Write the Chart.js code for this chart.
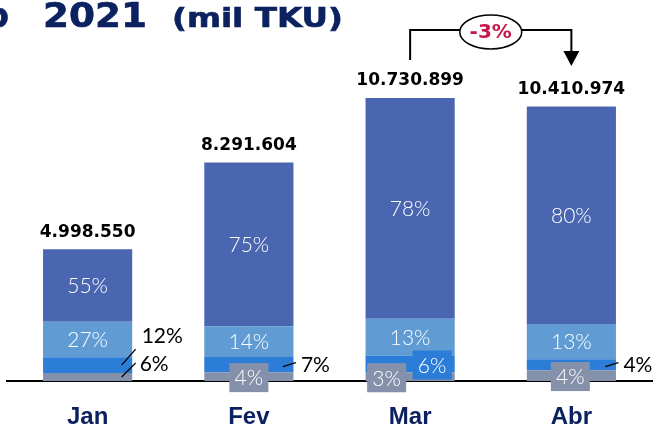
<!DOCTYPE html>
<html>
<head>
<meta charset="utf-8">
<script src="https://cdn.jsdelivr.net/npm/chart.js@4.4.0/dist/chart.umd.min.js"></script>
<style>
  html, body { margin: 0; padding: 0; background: #fff; }
  #wrap { width: 654px; height: 428px; position: relative; }
</style>
</head>
<body>
<div id="wrap"><canvas id="grafico"></canvas></div>
<script>
"use strict";
/* global Chart */
// Dados (mil TKU)
const meses = ["Jan", "Fev", "Mar", "Abr"];
const totais = [4998550, 8291604, 10730899, 10410974];
// participação de cada parcela (%), de baixo para cima
const pctCinza = [6, 4, 3, 4];
const pctAzul = [12, 7, 6, 4];
const pctAzulClaro = [27, 14, 13, 13];
const pctAzulEscuro = [55, 75, 78, 80];
const variacao = "-3%";

// forma de mostrar as parcelas pequenas (estilo, não dado)
const modoCinza = [
    { tipo: "fora" },
    { tipo: "caixa", dx: 0 },
    { tipo: "caixa", dx: -23.5 },
    { tipo: "caixa", dx: -1 }
];
const modoAzul = [
    { tipo: "alto" },
    { tipo: "fora" },
    { tipo: "caixa", dx: 22 },
    { tipo: "fora" }
];

const cores = {
    cinza: "#8591aa",
    azul: "#2b7dd7",
    azulClaro: "#609cd3",
    azulEscuro: "#4a66b0",
    titulo: "#0c2260"
};

// valor absoluto de cada parcela a partir do total e do percentual
const parcela = (pcts) => pcts.map((p, i) => {
    const soma = pctCinza[i] + pctAzul[i] + pctAzulClaro[i] + pctAzulEscuro[i];
    return totais[i] * p / soma;
});

const formatar = (n) => String(n).replace(/\B(?=(\d{3})+(?!\d))/g, ".");

const fontePct = "300 21px Lato, 'Open Sans', sans-serif";
const fontePreta = "400 21px Lato, 'Open Sans', sans-serif";

const caixa = (ctx, x, y, texto, cor) => {
    ctx.fillStyle = cor;
    ctx.fillRect(x - 19.5, y - 14.5, 39, 29);
    ctx.fillStyle = "#fff";
    ctx.font = fontePct;
    ctx.textAlign = "center";
    ctx.textBaseline = "middle";
    ctx.fillText(texto, x, y + 1);
};

const linha = (ctx, x1, y1, x2, y2) => {
    ctx.strokeStyle = "#000";
    ctx.lineWidth = 1.3;
    ctx.beginPath();
    ctx.moveTo(x1, y1);
    ctx.lineTo(x2, y2);
    ctx.stroke();
};

const textoPreto = (ctx, x, y, texto) => {
    ctx.fillStyle = "#000";
    ctx.font = fontePreta;
    ctx.textAlign = "left";
    ctx.textBaseline = "middle";
    ctx.fillText(texto, x, y + 1);
};

// texto esticado na horizontal até a largura pedida, com traço leve para engrossar
const textoLargo = (ctx, texto, x, y, largura) => {
    const w = ctx.measureText(texto).width;
    ctx.save();
    ctx.translate(x, y);
    ctx.scale(largura / w, 1);
    ctx.fillText(texto, 0, 0);
    ctx.strokeStyle = ctx.fillStyle;
    ctx.lineWidth = 0.6;
    ctx.strokeText(texto, 0, 0);
    ctx.restore();
};

const rotulos = {
    id: "rotulos",
    afterDraw(chart) {
        const ctx = chart.ctx;
        const metas = [0, 1, 2, 3].map(d => chart.getDatasetMeta(d).data);
        ctx.save();

        // título (cortado à esquerda, como no original)
        ctx.fillStyle = cores.titulo;
        ctx.textBaseline = "alphabetic";
        ctx.textAlign = "left";
        ctx.font = "bold 34px 'DejaVu Sans', sans-serif";
        textoLargo(ctx, "b", -15, 27, 24);
        textoLargo(ctx, "2021", 43, 27, 104);
        ctx.font = "bold 26px 'DejaVu Sans', sans-serif";
        textoLargo(ctx, "(mil TKU)", 172, 27, 171);

        meses.forEach((m, i) => {
            const topo = metas[3][i];
            const cx = topo.x;
            const meio = (el) => (el.y + el.base) / 2;

            // total acima da barra
            ctx.fillStyle = "#000";
            ctx.font = "bold 17px 'DejaVu Sans', sans-serif";
            ctx.textAlign = "center";
            ctx.textBaseline = "middle";
            ctx.fillText(formatar(totais[i]), cx, topo.y - 17);

            // parcelas grandes
            ctx.fillStyle = "#fff";
            ctx.font = fontePct;
            ctx.fillText(pctAzulEscuro[i] + "%", cx, meio(metas[3][i]) + 1);
            ctx.fillText(pctAzulClaro[i] + "%", cx, meio(metas[2][i]) + 1);

            // parcelas pequenas
            const yCinza = meio(metas[0][i]);
            const yAzul = meio(metas[1][i]);
            const mc = modoCinza[i];
            const ma = modoAzul[i];
            if (mc.tipo === "caixa") {
                caixa(ctx, cx + mc.dx, yCinza + 1, pctCinza[i] + "%", cores.cinza);
            } else {
                linha(ctx, cx + 34, yCinza, cx + 48, yCinza - 14);
                textoPreto(ctx, cx + 52, yCinza - 14, pctCinza[i] + "%");
            }
            if (ma.tipo === "caixa") {
                caixa(ctx, cx + ma.dx, yAzul + 1, pctAzul[i] + "%", cores.azul);
            } else if (ma.tipo === "alto") {
                linha(ctx, cx + 34, yAzul, cx + 48, yAzul - 16);
                textoPreto(ctx, cx + 54, yAzul - 30, pctAzul[i] + "%");
            } else {
                linha(ctx, cx + 34, yAzul + 2, cx + 47, yAzul - 2);
                textoPreto(ctx, cx + 52, yAzul, pctAzul[i] + "%");
            }
        });

        // variação Mar -> Abr
        const xM = metas[3][2].x;
        const xA = metas[3][3].x;
        const yL = 30;
        const cxE = (xM + xA) / 2;
        ctx.strokeStyle = "#000";
        ctx.lineWidth = 2;
        ctx.beginPath();
        ctx.moveTo(xM, 60);
        ctx.lineTo(xM, yL);
        ctx.lineTo(xA, yL);
        ctx.lineTo(xA, 52);
        ctx.stroke();
        ctx.fillStyle = "#000";
        ctx.beginPath();
        ctx.moveTo(xA - 8, 51);
        ctx.lineTo(xA + 8, 51);
        ctx.lineTo(xA, 66);
        ctx.closePath();
        ctx.fill();
        ctx.fillStyle = "#fff";
        ctx.lineWidth = 1.5;
        ctx.beginPath();
        ctx.ellipse(cxE, 32, 31, 17, 0, 0, Math.PI * 2);
        ctx.fill();
        ctx.stroke();
        ctx.fillStyle = "#c8174b";
        ctx.font = "bold 20px 'DejaVu Sans', sans-serif";
        ctx.textAlign = "center";
        ctx.textBaseline = "middle";
        ctx.fillText(variacao, cxE, 33);

        ctx.restore();
    }
};

const conjunto = (rotulo, dados, cor) => ({
    label: rotulo,
    data: dados,
    backgroundColor: cor,
    borderWidth: 0,
    barPercentage: 0.553,
    categoryPercentage: 1
});

const config = {
    type: "bar",
    data: {
        labels: meses,
        datasets: [
            conjunto("cinza", parcela(pctCinza), cores.cinza),
            conjunto("azul", parcela(pctAzul), cores.azul),
            conjunto("azul claro", parcela(pctAzulClaro), cores.azulClaro),
            conjunto("azul escuro", parcela(pctAzulEscuro), cores.azulEscuro)
        ]
    },
    options: {
        responsive: true,
        maintainAspectRatio: false,
        animation: false,
        devicePixelRatio: 1,
        layout: { padding: { left: 7, right: 2, top: 0, bottom: 3 } },
        plugins: {
            legend: { display: false },
            tooltip: { enabled: false }
        },
        scales: {
            x: {
                stacked: true,
                grid: { display: false, drawTicks: false },
                border: { display: true, color: "#000", width: 2 },
                ticks: {
                    padding: 24,
                    color: cores.titulo,
                    font: { family: "'Liberation Sans', Arial, sans-serif", size: 24, weight: "bold", lineHeight: 1 }
                },
                afterFit(scale) {
                    scale.height = 44;
                }
            },
            y: {
                stacked: true,
                display: false,
                min: 0,
                max: 14450000
            }
        }
    },
    plugins: [rotulos]
};

new Chart(document.querySelector("#grafico"), config);
</script>
</body>
</html>
